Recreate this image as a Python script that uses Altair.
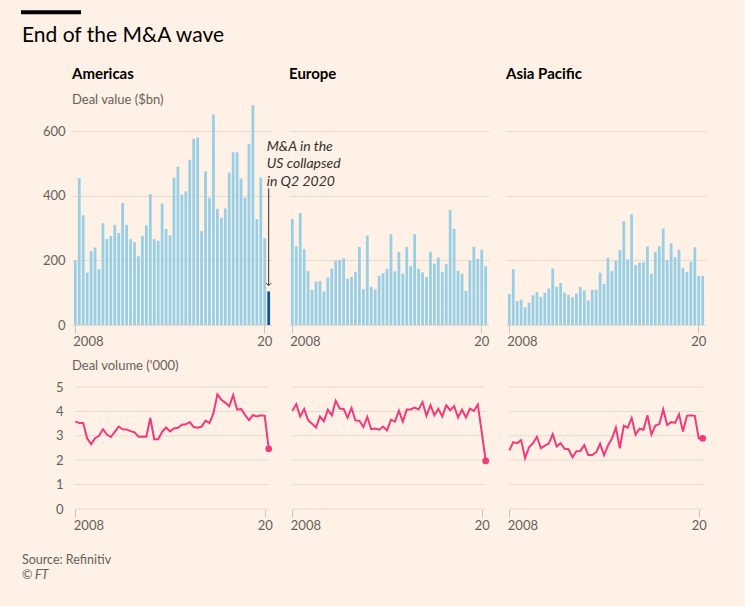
import altair as alt
import pandas as pd

# Quarterly periods, 2008 Q1 to 2020 Q2
quarters = [f"{y} Q{q}" for y in range(2008, 2021) for q in range(1, 5)][:50]
latest = quarters[-1]

regions = ["Americas", "Europe", "Asia Pacific"]

# Deal value ($bn) per quarter
americas_value = [200, 455, 340, 162, 229, 240, 173, 315, 266, 276, 310, 285, 378, 310, 266, 257,
                  213, 276, 309, 406, 266, 261, 376, 298, 278, 457, 490, 404, 414, 512, 577, 581,
                  291, 476, 394, 652, 360, 332, 361, 472, 535, 535, 454, 394, 561, 681, 328, 457,
                  269, 104]
europe_value = [328, 244, 347, 235, 167, 109, 135, 136, 104, 147, 174, 199, 202, 207, 143, 149,
                165, 242, 111, 277, 118, 110, 152, 160, 174, 281, 166, 226, 159, 242, 182, 281,
                174, 163, 149, 227, 190, 209, 165, 189, 357, 298, 168, 159, 106, 199, 242, 205,
                233, 182]
asia_value = [96, 173, 74, 78, 55, 69, 92, 102, 87, 99, 113, 175, 118, 130, 100, 93,
              86, 97, 118, 107, 76, 109, 109, 162, 127, 208, 167, 199, 232, 322, 203, 343,
              186, 193, 195, 243, 159, 227, 244, 299, 201, 253, 210, 233, 176, 164, 196, 241,
              152, 152]

# Deal volume ('000) per quarter
americas_volume = [3.59, 3.52, 3.52, 2.90, 2.66, 2.90, 3.00, 3.27, 3.05, 2.95, 3.16, 3.38, 3.27,
                   3.26, 3.19, 3.14, 2.96, 2.97, 2.96, 3.73, 2.86, 2.86, 3.16, 3.34, 3.18, 3.30,
                   3.33, 3.45, 3.47, 3.56, 3.36, 3.33, 3.38, 3.62, 3.52, 3.93, 4.70, 4.48, 4.36,
                   4.21, 4.67, 4.07, 4.10, 3.86, 3.64, 3.85, 3.79, 3.84, 3.82, 2.47]
europe_volume = [4.03, 4.30, 3.79, 4.10, 3.64, 3.49, 3.34, 3.79, 3.60, 4.07, 3.84, 4.44, 4.12,
                 4.10, 3.74, 4.14, 3.63, 3.62, 3.36, 3.77, 3.27, 3.30, 3.25, 3.38, 3.22, 3.66,
                 3.58, 4.03, 3.58, 4.08, 4.08, 4.16, 4.08, 4.38, 3.82, 4.26, 3.84, 4.11, 3.79,
                 4.25, 4.05, 4.22, 3.75, 4.07, 3.75, 4.11, 4.02, 4.28, 3.15, 1.97]
asia_volume = [2.40, 2.74, 2.70, 2.82, 2.08, 2.53, 2.70, 2.96, 2.49, 2.60, 2.68, 3.07, 2.56,
               2.70, 2.47, 2.45, 2.12, 2.37, 2.38, 2.62, 2.21, 2.21, 2.32, 2.68, 2.21, 2.60,
               2.89, 3.34, 2.49, 3.41, 3.33, 3.73, 3.05, 3.29, 3.25, 3.84, 3.05, 3.42, 3.48,
               4.08, 3.44, 3.56, 3.53, 3.88, 3.18, 3.82, 3.84, 3.82, 2.89, 2.90]

value_ticks = [0, 200, 400, 600]
volume_ticks = [0, 1, 2, 3, 4, 5]
tick_quarters = [quarters[0], quarters[48]]

PAPER = "#fff1e5"
BAR = "#96cfe6"
BAR_LATEST = "#0f5499"
LINE = "#f2397c"
GRID = "#e6d9ce"
TICK = "#cfc3b8"
GREY = "#66605c"
INK = "#33302e"
FONT = "Lato"

W = 200
H_BAR = 226
H_LINE = 122

first_tick = f"datum.value == '{quarters[0]}'"
label_expr = f"{first_tick} ? '2008' : '20'"


def x_axis():
    return alt.Axis(values=tick_quarters, labelExpr=label_expr, domain=False, ticks=True,
                    tickSize=8, tickColor=TICK, labelAngle=0, labelPadding=2, title=None,
                    labelAlign={"condition": {"test": first_tick, "value": "left"},
                                "value": "center"},
                    labelOffset={"condition": {"test": first_tick, "value": -2}, "value": 0},
                    labelFontSize=13, labelColor=GREY, labelFont=FONT)


def bar_panel(region, values, first):
    df = pd.DataFrame({
        "quarter": quarters,
        "value": values,
        "period": ["Q2 2020" if (q == latest and first) else "Earlier" for q in quarters],
    })
    x = alt.X("quarter:O", scale=alt.Scale(domain=quarters, paddingInner=0.3, paddingOuter=0.49),
              axis=x_axis())
    y = alt.Y("value:Q", scale=alt.Scale(domain=[0, 700], nice=False),
              axis=alt.Axis(values=value_ticks, grid=True, gridColor=GRID, domain=False,
                            ticks=False, labels=first, labelPadding=7, title=None,
                            labelFontSize=13, labelColor=GREY, labelFont=FONT))
    bars = alt.Chart(df).mark_bar().encode(
        x=x, y=y,
        color=alt.Color("period:N", scale=alt.Scale(domain=["Earlier", "Q2 2020"],
                                                      range=[BAR, BAR_LATEST]), legend=None),
    )
    layers = [bars]
    if first:
        note = pd.DataFrame({
            "quarter": [latest],
            "text_y": [540],
            "arrow_top": [423],
            "arrow_tip": [122],
            "label": ["M&A in the\nUS collapsed\nin Q2 2020"],
        })
        base = alt.Chart(note)
        layers += [
            base.mark_rule(color=INK, strokeWidth=1).encode(
                x=alt.X("quarter:O"), y=alt.Y("arrow_top:Q"), y2="arrow_tip:Q"),
            base.mark_point(shape="M-1,-1L0,0L1,-1", size=25, filled=False, strokeWidth=1,
                            color=INK, opacity=1).encode(
                x=alt.X("quarter:O"), y=alt.Y("arrow_tip:Q")),
            base.mark_text(align="left", baseline="alphabetic", dx=-2, fontSize=14,
                           fontStyle="italic", font=FONT, color=INK, lineBreak="\n",
                           lineHeight=17.5).encode(
                x=alt.X("quarter:O"), y=alt.Y("text_y:Q"), text="label:N"),
        ]
    title = alt.TitleParams(
        text=region, subtitle="Deal value ($bn)" if first else " ",
        anchor="start", frame="group", font=FONT, fontSize=15, fontWeight="bold",
        color="#000000", subtitleFont=FONT, subtitleFontSize=13, subtitleColor=GREY,
        subtitlePadding=12, offset=-8,
    )
    return alt.layer(*layers).properties(width=W, height=H_BAR, title=title)


def line_panel(values, first, decorate=False):
    df = pd.DataFrame({"quarter": quarters, "volume": values})
    grid_df = pd.DataFrame({
        "quarter": [quarters[0]] * len(volume_ticks),
        "quarter_end": [quarters[-1]] * len(volume_ticks),
        "volume": volume_ticks,
    })
    x = alt.X("quarter:O", scale=alt.Scale(domain=quarters, type="point", padding=0.84),
              axis=x_axis())
    y = alt.Y("volume:Q", scale=alt.Scale(domain=[0, 5], nice=False),
              axis=alt.Axis(values=volume_ticks, grid=False, domain=False, ticks=False,
                            labels=first, labelPadding=9, title=None, labelFontSize=13,
                            labelColor=GREY, labelFont=FONT))
    grid = alt.Chart(grid_df).mark_rule(color=GRID, strokeWidth=1).encode(
        x=x, x2="quarter_end:O", y=y)
    line = alt.Chart(df).mark_line(color=LINE, strokeWidth=2).encode(x=x, y=y)
    dot = alt.Chart(df[df["quarter"] == latest]).mark_circle(
        color=LINE, size=45, opacity=1).encode(x=x, y=y)
    layers = [grid, line, dot]
    if decorate:
        deco = alt.Chart(pd.DataFrame({"n": [0]}))
        # canvas frame, headline, source line (positions relative to this panel)
        layers = [
            deco.mark_rect(opacity=0).encode(
                x=alt.value(-289), x2=alt.value(456), y=alt.value(-387), y2=alt.value(219)),
        ] + layers + [
            deco.mark_rule(color="#000000", strokeWidth=4).encode(
                x=alt.value(-268), x2=alt.value(-208), y=alt.value(-374.7)),
            deco.mark_text(text="End of the M&A wave", align="left", baseline="alphabetic",
                           font=FONT, fontSize=21, color="#000000").encode(
                x=alt.value(-267), y=alt.value(-345.3)),
            deco.mark_text(text="Source: Refinitiv", align="left", baseline="alphabetic",
                           font=FONT, fontSize=12.5, color=GREY).encode(
                x=alt.value(-267), y=alt.value(177)),
            deco.mark_text(text="©", align="left", baseline="alphabetic",
                           font=FONT, fontSize=12.5, color=GREY).encode(
                x=alt.value(-267), y=alt.value(191.5)),
            deco.mark_text(text="FT", align="left", baseline="alphabetic", fontStyle="italic",
                           font=FONT, fontSize=12.5, color=GREY).encode(
                x=alt.value(-254), y=alt.value(191.5)),
        ]
    chart = alt.layer(*layers).properties(width=W, height=H_LINE)
    if first:
        chart = chart.properties(title=alt.TitleParams(
            text="Deal volume ('000)", anchor="start", frame="group", font=FONT, fontSize=13,
            fontWeight="normal", color=GREY, offset=8))
    return chart


chart = alt.concat(
    bar_panel(regions[0], americas_value, True),
    bar_panel(regions[1], europe_value, False),
    bar_panel(regions[2], asia_value, False),
    line_panel(americas_volume, True),
    line_panel(europe_volume, False, decorate=True),
    line_panel(asia_volume, False),
    columns=3,
    spacing={"row": 62, "column": 17},
    bounds="flush",
).properties(
    padding=0, background=PAPER,
).configure(
    font=FONT, view=alt.ViewConfig(stroke=None),
)

chart.save("out.html", embed_options={"renderer": "svg", "actions": False})
